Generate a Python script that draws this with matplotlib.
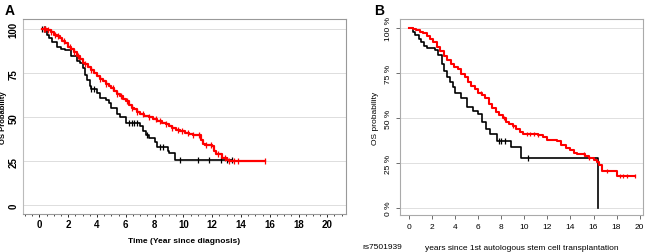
import matplotlib
matplotlib.use("Agg")
import matplotlib.pyplot as plt
import numpy as np

# ---- Panel A data ----
a_black_t = [0.2, 0.5, 0.7, 0.9, 1.2, 1.5, 1.8, 2.2, 2.6, 2.8, 3.0, 3.2, 3.3, 3.5, 3.6, 4.0, 4.2, 4.6, 4.8, 5.0, 5.4, 5.6, 6.0, 7.0, 7.2, 7.4, 7.6, 8.0, 8.2, 8.9, 9.0, 9.4, 13.4]
a_black_s = [100, 97, 95, 93, 90, 89, 88, 85, 82, 81, 78, 74, 71, 68, 66, 64, 61, 60, 58, 55, 52, 50, 47, 45, 42, 40, 38, 36, 33, 31, 30, 26, 26]
a_black_c = [0.2, 0.3, 0.4, 3.6, 3.8, 6.2, 6.4, 6.6, 6.8, 7.5, 8.4, 8.6, 9.8, 11.0, 11.8, 12.6, 13.0, 13.4]

a_red_t = [0.2, 0.5, 0.8, 1.0, 1.2, 1.4, 1.6, 1.8, 2.0, 2.2, 2.4, 2.6, 2.8, 3.0, 3.2, 3.4, 3.6, 3.8, 4.0,
           4.2, 4.4, 4.6, 4.8, 5.0, 5.2, 5.4, 5.6, 5.8, 6.0, 6.2, 6.4, 6.6, 6.8, 7.0, 7.3, 7.6, 7.9, 8.2,
           8.5, 8.8, 9.0, 9.2, 9.5, 9.8, 10.1, 10.4, 10.7, 11.05, 11.2, 11.35, 11.5, 12.0, 12.1, 12.25,
           12.7, 13.0, 13.2, 15.7]
a_red_s = [100, 99.5, 98.5, 97, 96, 95, 93.5, 92, 90, 88.5, 87, 85, 83, 81, 80, 78.5, 77, 75, 73.5,
           72, 70.5, 69, 68, 66.5, 65, 63.5, 62, 60.5, 59, 57, 55.5, 54.5, 53, 52, 51, 50, 49, 48,
           47, 46, 45, 44, 43, 42, 41, 40.5, 40, 40, 37, 35, 34, 33.5, 31, 29,
           27, 25.5, 25, 25]
a_red_c = [0.3, 0.4, 0.6, 0.8, 1.1, 1.3, 1.7, 2.1, 2.4, 2.7, 3.2, 3.6, 4.2, 4.6, 5.1, 5.4, 5.7, 6.1,
           6.4, 6.8, 7.2, 7.6, 8.1, 8.4, 8.8, 9.2, 9.6, 9.9, 10.3, 10.7, 11.1, 11.6, 11.9, 12.4,
           12.9, 13.2, 13.5, 13.8, 15.7]

# ---- Panel B data ----
b_black_t = [0.0, 0.3, 0.5, 0.8, 1.0, 1.3, 1.5, 2.2, 2.5, 2.8, 3.0, 3.3, 3.5, 3.8, 4.0, 4.5, 5.0, 5.5, 6.0, 6.3, 6.7, 7.0, 7.6, 8.8, 9.7, 16.3, 16.35]
b_black_s = [100, 98, 96, 94, 92, 90, 89, 88, 85, 80, 76, 73, 70, 67, 64, 61, 56, 54, 52, 48, 44, 41, 37, 34, 28, 28, 0]
b_black_c = [7.8, 8.0, 8.3, 10.3]

b_red_t = [0.0, 0.3, 0.6, 0.9, 1.2, 1.5, 1.8, 2.1, 2.4, 2.7, 3.0, 3.3, 3.6, 3.9, 4.2, 4.5, 4.8, 5.1,
           5.4, 5.7, 6.0, 6.3, 6.6, 6.9, 7.2, 7.5, 7.8, 8.1, 8.4, 8.7, 9.0, 9.3, 9.6, 9.9, 11.2,
           11.6, 12.0, 12.8, 13.2, 13.6, 14.0, 14.3, 14.6, 15.3, 15.6, 16.0, 16.3, 16.5, 16.7, 17.9,
           18.0, 19.6]
b_red_s = [100, 99.5, 99, 98, 97, 95.5, 94, 92, 89.5, 87, 84.5, 82, 80, 78.5, 77, 74.5, 72.5, 70,
           68, 66, 64, 63, 61, 58, 55.5, 53.5, 51.5, 50, 48, 46.5, 45.5, 44, 42, 41, 40.5,
           39.5, 38, 37, 35, 33.5, 32, 30.5, 30, 29, 28, 26.5, 25.5, 24, 20.5, 20.5,
           18, 18]
b_red_c = [6.2, 8.2, 9.0, 10.2, 10.5, 10.8, 11.2, 15.2, 15.6, 17.2, 18.3, 18.6, 18.9, 19.6]

plt.rcParams['font.family'] = ['Liberation Sans', 'DejaVu Sans']

fig = plt.figure(figsize=(6.45, 2.53), dpi=100)
W, H = 645, 253

def add_ax(l, t, r, b):
    return fig.add_axes([l / W, 1 - b / H, (r - l) / W, (b - t) / H])

def km(ax, t, s, c, color, lw, ms=4):
    ax.step(t, s, where='post', color=color, lw=lw)
    tt = np.array(t); ss = np.array(s)
    vals = [ss[np.searchsorted(tt, ci, side='right') - 1] for ci in c]
    ax.plot(c, vals, ls='none', marker='|', ms=ms, mew=0.9, color=color)

# Panel A
axA = add_ax(23, 20, 346, 215)
axA.set_xlim(-1.14, 21.3)
axA.set_ylim(-4.9, 105.8)
for y in [0, 25, 50, 75, 100]:
    axA.axhline(y, color='#dddddd', lw=0.7, zorder=0)
km(axA, a_black_t, a_black_s, a_black_c, 'black', 1.2)
km(axA, a_red_t, a_red_s, a_red_c, '#ff0000', 1.6)
axA.set_xticks(range(0, 21, 2))
axA.set_xticks(np.arange(-1, 21.5, 0.5), minor=True)
axA.set_yticks([0, 25, 50, 75, 100])
axA.tick_params(axis='x', labelsize=7, length=2, width=0.6, pad=1.5, direction='out')
axA.tick_params(axis='x', which='minor', length=1.5, width=0.5)
axA.tick_params(axis='y', labelsize=7, length=0, pad=3)
for lab in axA.get_yticklabels():
    lab.set_rotation(90); lab.set_va('center')
for lab in axA.get_xticklabels() + axA.get_yticklabels():
    lab.set_fontweight('bold')
for sp in axA.spines.values():
    sp.set_color('#999999'); sp.set_linewidth(0.8)
axA.spines['left'].set_color('#bbbbbb')
axA.set_xlabel('Time (Year since diagnosis)', fontsize=6, fontweight='bold', labelpad=6)
axA.set_ylabel('OS Probability', fontsize=5.5, fontweight='bold', labelpad=1)
fig.text(5 / W, 1 - 11 / H, 'A', fontsize=10, fontweight='bold', va='center')

# Panel B
axB = add_ax(400, 20, 643, 216)
axB.set_xlim(-0.81, 20.3)
axB.set_ylim(-3.9, 105)
for y in [0, 25, 50, 75, 100]:
    axB.axhline(y, color='#e0e0e0', lw=0.7, zorder=0)
km(axB, b_black_t, b_black_s, b_black_c, 'black', 1.2)
km(axB, b_red_t, b_red_s, b_red_c, '#ff0000', 1.5, ms=3)
axB.set_xticks(range(0, 21, 2))
axB.set_yticks([0, 25, 50, 75, 100])
axB.set_yticklabels(['0 %', '25 %', '50 %', '75 %', '100 %'])
axB.tick_params(axis='both', labelsize=6, length=3, width=0.6, pad=3, color='#555555')
for lab in axB.get_yticklabels():
    lab.set_rotation(90); lab.set_va('center')
for sp in axB.spines.values():
    sp.set_color('#aaaaaa'); sp.set_linewidth(0.8)
axB.set_xlabel('years since 1st autologous stem cell transplantation', fontsize=6, labelpad=10)
axB.set_ylabel('OS probability', fontsize=6, labelpad=4)
fig.text(382 / W, 1 - 248 / H, 'rs7501939', fontsize=6, ha='center', va='center')
fig.text(374 / W, 1 - 11 / H, 'B', fontsize=10, fontweight='bold', va='center')

fig.savefig('out.png', dpi=100)
